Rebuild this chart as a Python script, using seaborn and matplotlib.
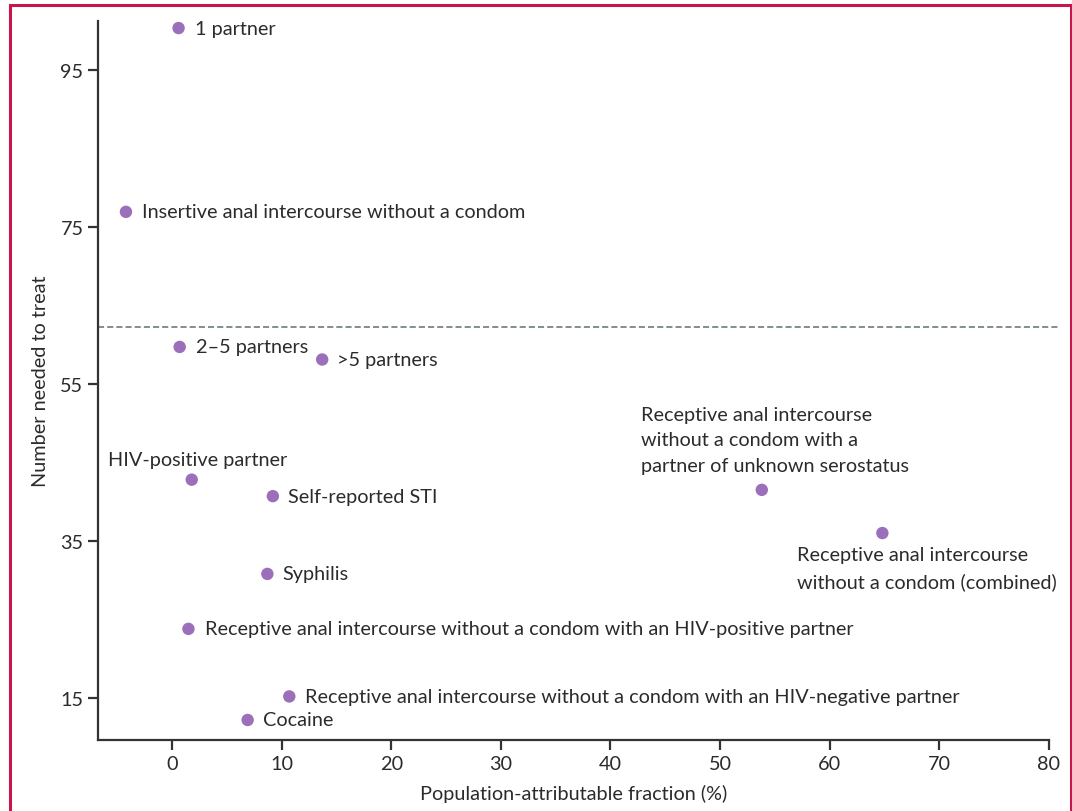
import matplotlib
matplotlib.use("Agg")
import matplotlib.pyplot as plt
from matplotlib.patches import Rectangle
import seaborn as sns
import pandas as pd

# Risk factors: population-attributable fraction (%) vs number needed to treat
LABELS = [
    "1 partner",
    "Insertive anal intercourse without a condom",
    "2\u20135 partners",
    ">5 partners",
    "HIV-positive partner",
    "Self-reported STI",
    "Receptive anal intercourse\nwithout a condom with a\npartner of unknown serostatus",
    "Receptive anal intercourse\nwithout a condom (combined)",
    "Syphilis",
    "Receptive anal intercourse without a condom with an HIV-positive partner",
    "Receptive anal intercourse without a condom with an HIV-negative partner",
    "Cocaine",
]
PAF = [0.6, -4.2, 0.7, 13.7, 1.8, 9.2, 53.8, 64.8, 8.7, 1.5, 10.7, 6.9]
NNT = [100.3, 76.9, 59.7, 58.1, 42.8, 40.7, 41.5, 36.0, 30.8, 23.8, 15.2, 12.2]
THRESHOLD = 62.3
X_TICKS = [0, 10, 20, 30, 40, 50, 60, 70, 80]
Y_TICKS = [15, 35, 55, 75, 95]

# label offsets in pixels (dx, dy, ha, va)
OFFSETS = [
    (16, 0, "left", "center"),
    (16, 0, "left", "center"),
    (16, 0, "left", "center"),
    (15, 0, "left", "center"),
    (-84, 12, "left", "bottom"),
    (15, 0, "left", "center"),
    (-121, 16, "left", "bottom"),
    (-85, -13, "left", "top"),
    (15, 0, "left", "center"),
    (17, 0, "left", "center"),
    (16, 0, "left", "center"),
    (15, 0, "left", "center"),
]

PURPLE = "#9b6fba"
TEXT = "#2b2b2b"
AXIS = "#333333"

df = pd.DataFrame({"paf": PAF, "nnt": NNT, "label": LABELS})

sns.set_style("white")
plt.rcParams["font.family"] = ["Lato", "DejaVu Sans"]
FS = 14.3

fig = plt.figure(figsize=(10.72, 8.12), dpi=100)
ax = fig.add_axes([98 / 1072, 1 - 741 / 812, (1049 - 98) / 1072, (741 - 22) / 812])

sns.scatterplot(data=df, x="paf", y="nnt", ax=ax, color=PURPLE, s=80,
                edgecolor="none", legend=False, zorder=3)

for (_, row), (dx, dy, ha, va) in zip(df.iterrows(), OFFSETS):
    ax.annotate(row["label"], (row["paf"], row["nnt"]), xytext=(dx, dy),
                textcoords="offset pixels", ha=ha, va=va, fontsize=FS,
                color=TEXT, linespacing=1.62, annotation_clip=False)

ax.axhline(THRESHOLD, xmin=0, xmax=1.011, color="#5f6f77", lw=1.1,
           ls=(0, (4, 2)), clip_on=False)

ax.set_xlim(-6.75, 80)
ax.set_ylim(9.65, 101.2)
ax.set_xticks(X_TICKS)
ax.set_yticks(Y_TICKS)
ax.set_xlabel("Population-attributable fraction (%)", fontsize=FS, color=TEXT, labelpad=9)
ax.set_ylabel("Number needed to treat", fontsize=FS, color=TEXT, labelpad=8)

sns.despine(ax=ax)
for side in ("left", "bottom"):
    ax.spines[side].set_color(AXIS)
    ax.spines[side].set_linewidth(1.6)
ax.tick_params(axis="both", which="major", length=7, width=1.6, color=AXIS,
               labelsize=FS, labelcolor=TEXT, direction="out", left=True, bottom=True)

# publication-style frame
fig.patches.append(Rectangle((10 / 1072, -0.02), (1071 - 10) / 1072, 1.02 - 6 / 812,
                             transform=fig.transFigure, fill=False,
                             edgecolor="#c8154a", lw=2.2))

fig.savefig("out.png", dpi=100)
